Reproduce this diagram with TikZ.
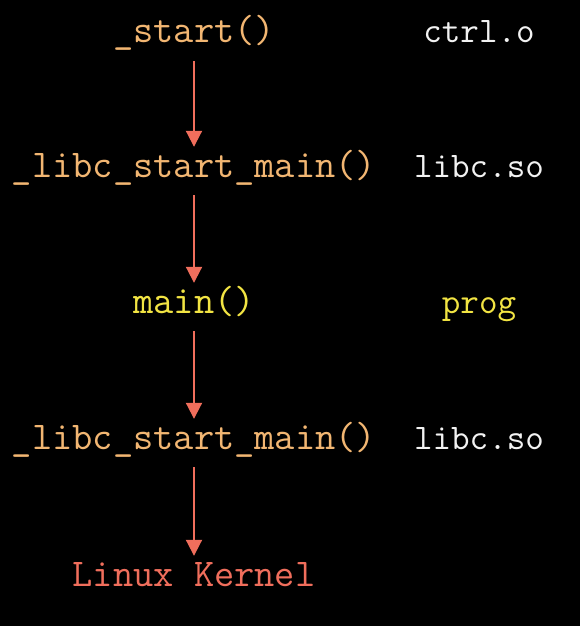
\documentclass[tikz,border=0pt]{standalone}
\usepackage{fontspec}
\usetikzlibrary{arrows.meta}
\definecolor{funcorange}{HTML}{F2B672}
\definecolor{funcyellow}{HTML}{F2E443}
\definecolor{callred}{HTML}{F06E5C}
\definecolor{libwhite}{HTML}{F2F2F2}

\begin{document}
\begin{tikzpicture}[x=1pt, y=-1pt,
  func/.style={font=\ttfamily\fontsize{39.3}{42}\selectfont, inner sep=0pt,
    text height=30pt, text depth=18pt, anchor=base},
  obj/.style={func, font=\ttfamily\fontsize{36}{40}\selectfont},
  call/.style={draw=callred, line width=2pt, -{Triangle[width=16pt,length=16pt]}}]
  % Background
  \fill[black] (0,0) rectangle (580,626);

  % Call chain
  \node[func, text=funcorange] (start) at (194,43) {\_start()};
  \node[func, text=funcorange] (libcA) at (194,177) {\_libc\_start\_main()};
  \node[func, text=funcyellow] (main) at (194,313) {main()};
  \node[func, text=funcorange] (libcB) at (194,449) {\_libc\_start\_main()};
  \node[func, text=callred] (kernel) at (194,586) {Linux Kernel};

  % Objects
  \node[obj, text=libwhite] (ctrl) at (479,43) {ctrl.o};
  \node[obj, text=libwhite] (soA) at (479,177) {libc.so};
  \node[obj, text=funcyellow] (prog) at (479,313) {prog};
  \node[obj, text=libwhite] (soB) at (479,449) {libc.so};

  % Arrows
  \draw[call] (start) -- (libcA);
  \draw[call] (libcA) -- (main);
  \draw[call] (main) -- (libcB);
  \draw[call] (libcB) -- (kernel);
\end{tikzpicture}
\end{document}
